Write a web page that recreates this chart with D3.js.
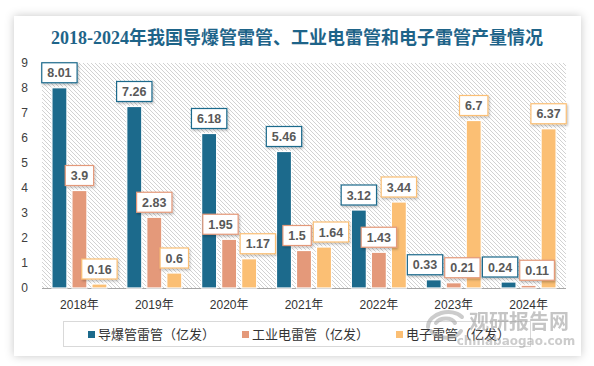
<!DOCTYPE html>
<html><head><meta charset="utf-8">
<script src="https://cdn.jsdelivr.net/npm/d3@7"></script>
<style>
html,body{margin:0;padding:0;background:#fff;}
svg{display:block;}
</style></head>
<body>
<svg id="chart" width="594" height="366"></svg>
<script>
const title = "2018-2024年我国导爆管雷管、工业电雷管和电子雷管产量情况";
const years = ["2018年","2019年","2020年","2021年","2022年","2023年","2024年"];
const seriesNames = ["导爆管雷管（亿发）","工业电雷管（亿发）","电子雷管（亿发）"];
const detonatorTube = [8.01,7.26,6.18,5.46,3.12,0.33,0.24];
const industrialElectric = [3.9,2.83,1.95,1.5,1.43,0.21,0.11];
const electronic = [0.16,0.6,1.17,1.64,3.44,6.7,6.37];
const yTicks = [0,1,2,3,4,5,6,7,8,9];
const colors = ["#1c6a8c","#e4997a","#fbbf74"];
const borderColors = ["#1c6a8c","#e4997a","#fbbf74"];

const allSeries = [detonatorTube, industrialElectric, electronic];
const svg = d3.select("#chart");
const defs = svg.append("defs");

const sh = defs.append("filter").attr("id","cardShadow").attr("x","-10%").attr("y","-10%").attr("width","120%").attr("height","120%");
sh.append("feDropShadow").attr("dx",0).attr("dy",0).attr("stdDeviation",5).attr("flood-color","#000").attr("flood-opacity",0.22);
const lsh = defs.append("filter").attr("id","lblShadow").attr("x","-20%").attr("y","-20%").attr("width","150%").attr("height","160%");
lsh.append("feDropShadow").attr("dx",1).attr("dy",1.5).attr("stdDeviation",1).attr("flood-color","#000").attr("flood-opacity",0.25);

const pat = defs.append("pattern").attr("id","hatch").attr("patternUnits","userSpaceOnUse").attr("width",4).attr("height",4);
pat.append("rect").attr("width",4).attr("height",4).attr("fill","#fff");
pat.append("path").attr("d","M-1,-1 L5,5 M3,-1 L5,1 M-1,3 L1,5").attr("stroke","#d2d2d2").attr("stroke-width",1);

svg.append("rect").attr("x",14).attr("y",16).attr("width",567).attr("height",340).attr("fill","#fff").attr("filter","url(#cardShadow)");

svg.append("text").attr("x",297).attr("y",44).attr("text-anchor","middle")
  .attr("font-family","'Liberation Serif','Noto Sans CJK SC',serif").attr("font-weight","bold")
  .attr("font-size",18).attr("fill","#1e6489").text(title);

const plot = {left:42,right:566,top:63,bottom:288};
const x0 = d3.scaleBand().domain(years).range([plot.left,plot.right]).paddingInner(0.265).paddingOuter(0.1325);
const x1 = d3.scaleBand().domain(d3.range(3)).range([0,x0.bandwidth()]).paddingInner(0.25);
const y = d3.scaleLinear().domain([0,9]).range([plot.bottom,plot.top]);

svg.append("rect").attr("x",plot.left).attr("y",plot.top).attr("width",plot.right-plot.left).attr("height",plot.bottom-plot.top).attr("fill","url(#hatch)");

const yAxis = d3.axisLeft(y).tickValues(yTicks).tickSize(0).tickPadding(14);
const gy = svg.append("g").attr("transform",`translate(${plot.left},0)`).call(yAxis);
gy.select(".domain").remove();
gy.selectAll("text").attr("font-family","'Liberation Sans',Arial,sans-serif").attr("font-size",12).attr("fill","#404040");

const xAxis = d3.axisBottom(x0).tickSize(0).tickPadding(12);
const gx = svg.append("g").attr("transform",`translate(0,${plot.bottom})`).call(xAxis);
gx.select(".domain").attr("stroke","#a6a6a6").attr("d",`M${plot.left},0.5H${plot.right}`);
gx.selectAll("text").attr("font-family","'Liberation Sans','Noto Sans CJK SC',sans-serif").attr("font-size",12).attr("fill","#333");

const groups = svg.append("g").selectAll("g").data(years).join("g")
  .attr("transform",d=>`translate(${x0(d)},0)`);
groups.selectAll("rect").data((d,i)=>allSeries.map((s,k)=>({k,v:s[i]}))).join("rect")
  .attr("x",d=>x1(d.k)).attr("width",x1.bandwidth())
  .attr("y",d=>y(d.v)).attr("height",d=>plot.bottom-y(d.v))
  .attr("fill",d=>colors[d.k]).attr("stroke","#fff").attr("stroke-width",1.2);

const lblLayer = svg.append("g");
years.forEach((yr,i)=>{
  const items = allSeries.map((s,k)=>{
    const v = s[i];
    const t = lblLayer.append("text").attr("font-family","'Liberation Sans',Arial,sans-serif")
      .attr("font-weight","bold").attr("font-size",12.5).attr("fill","#595959").text(String(v));
    const tw = t.node().getComputedTextLength();
    const w = tw+11, h = 20;
    const cx = x0(yr)+x1(k)+x1.bandwidth()/2;
    const bottom = y(v)-5;
    t.remove();
    return {k,v,w,h,cx,y0:bottom-h,y1:bottom};
  });
  for(let a=0;a<2;a++){
    for(let j=0;j<items.length-1;j++){
      const A=items[j],B=items[j+1];
      const vOver = A.y0 < B.y1 && B.y0 < A.y1;
      const ov = (A.cx+A.w/2) - (B.cx-B.w/2) + 2;
      if(vOver && ov>0){A.cx-=ov/2;B.cx+=ov/2;}
    }
  }
  items.forEach(it=>{
    const g = lblLayer.append("g");
    g.append("rect").attr("x",it.cx-it.w/2).attr("y",it.y0).attr("width",it.w).attr("height",it.h)
      .attr("fill","#fff").attr("stroke",borderColors[it.k]).attr("stroke-width",1.2).attr("filter","url(#lblShadow)");
    g.append("text").attr("x",it.cx).attr("y",it.y0+it.h/2).attr("dy","0.36em").attr("text-anchor","middle")
      .attr("font-family","'Liberation Sans',Arial,sans-serif").attr("font-weight","bold").attr("font-size",12.5)
      .attr("fill","#595959").text(String(it.v));
  });
});

const leg = svg.append("g");
leg.append("rect").attr("x",63.5).attr("y",321.5).attr("width",467).attr("height",25).attr("fill","#fff").attr("stroke","#d9d9d9");
const legX = [88,242,396];
seriesNames.forEach((n,k)=>{
  leg.append("rect").attr("x",legX[k]).attr("y",331).attr("width",7).attr("height",7).attr("fill",colors[k]);
  leg.append("text").attr("x",legX[k]+10).attr("y",334.5).attr("dy","0.36em")
    .attr("font-family","'Noto Sans CJK SC',sans-serif").attr("font-size",13).attr("fill","#333").text(n);
});

const wm = svg.append("g").attr("opacity",0.5);
wm.append("path").attr("d","M428,327 C428,313 452,307 462,317 M431,331 C440,341 456,339 461,331 M436,323 C440,317 452,317 455,323")
  .attr("fill","none").attr("stroke","#9a9a9a").attr("stroke-width",4).attr("stroke-linecap","round");
wm.append("text").attr("x",519).attr("y",329).attr("text-anchor","middle").attr("font-family","'Noto Sans CJK SC',sans-serif")
  .attr("font-weight","bold").attr("font-size",20).attr("fill","#8c8c8c").text("观研报告网");
wm.append("text").attr("x",516).attr("y",345).attr("text-anchor","middle").attr("font-family","'DejaVu Sans',sans-serif")
  .attr("font-weight","bold").attr("font-size",12).attr("fill","#9a9a9a").text("chinabaogao.com");
</script>
</body></html>
